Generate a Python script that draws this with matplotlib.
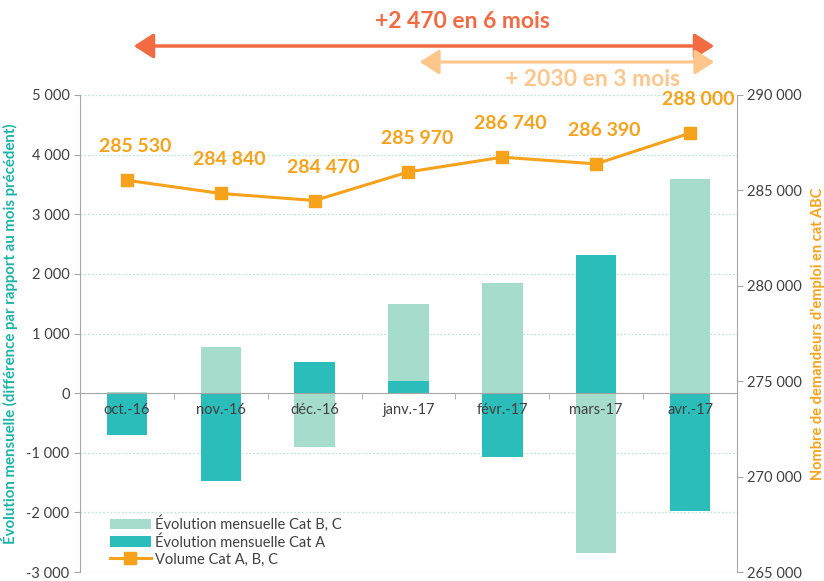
import matplotlib
matplotlib.use("Agg")
import matplotlib.pyplot as plt
from matplotlib.ticker import FuncFormatter, FixedLocator
import numpy as np

months = ["oct.-16", "nov.-16", "déc.-16", "janv.-17", "févr.-17", "mars-17", "avr.-17"]
cat_a = [-700, -1470, 530, 200, -1070, 2310, -1980]
cat_bc = [20, 780, -900, 1300, 1840, -2680, 3590]
volume = [285530, 284840, 284470, 285970, 286740, 286390, 288000]
vol_labels = ["285 530", "284 840", "284 470", "285 970", "286 740", "286 390", "288 000"]

C_A = "#2BBDB9"
C_BC = "#A6DCCB"
C_LINE = "#F7A21B"
C_RED = "#F26B43"
C_LIGHT = "#FFC68C"
C_GRID = "#BFE6DE"
C_SPINE = "#A6A6A6"
C_TXT = "#404040"

plt.rcParams['font.family'] = ['Lato', 'DejaVu Sans']

fig = plt.figure(figsize=(8.24, 5.81), dpi=100)
ax = fig.add_axes([80/824, 1-572/581, (737-80)/824, (572-95)/581])
ax2 = ax.twinx()

x = np.arange(len(months))
w = 0.43

# stacked bars (Excel style: positives stack up, negatives stack down)
pos_base = np.zeros(len(x))
neg_base = np.zeros(len(x))
for vals, col, lab in [(cat_a, C_A, "Évolution mensuelle Cat A"), (cat_bc, C_BC, "Évolution mensuelle Cat B, C")]:
    vals = np.array(vals, dtype=float)
    bottoms = np.where(vals >= 0, pos_base, neg_base)
    ax.bar(x, vals, w, bottom=bottoms, color=col, label=lab, zorder=3)
    pos_base = np.where(vals >= 0, pos_base + vals, pos_base)
    neg_base = np.where(vals < 0, neg_base + vals, neg_base)

ax.set_ylim(-3000, 5000)
ax.set_xlim(-0.5, len(x) - 0.5)
ax.set_yticks(np.arange(-3000, 5001, 1000))
ax.yaxis.set_major_formatter(FuncFormatter(lambda v, p: f"{int(v):,}".replace(",", " ")))
for yv in np.arange(-3000, 5001, 1000):
    if yv != 0:
        ax.axhline(yv, color=C_GRID, lw=0.9, ls=(0, (1.5, 1.5)), zorder=1)

ax.spines['top'].set_visible(False)
ax.spines['right'].set_visible(False)
ax.spines['left'].set_color(C_SPINE)
ax.spines['bottom'].set_position(('data', 0))
ax.spines['bottom'].set_color(C_SPINE)
ax.spines['bottom'].set_zorder(4)
ax.tick_params(axis='y', colors=C_SPINE, labelcolor=C_TXT, labelsize=10.5, length=4, direction='out')
ax.set_xticks(x)
ax.set_xticklabels(months)
ax.xaxis.set_minor_locator(FixedLocator(np.arange(0.5, len(x) - 0.5, 1)))
ax.tick_params(axis='x', which='major', length=0, labelsize=10.5, labelcolor=C_TXT, pad=7)
ax.tick_params(axis='x', which='minor', length=4, color=C_SPINE)
ax.xaxis.set_zorder(5)

ax.set_ylabel("Évolution mensuelle (différence par rapport au mois précédent)",
              color="#1BB3A8", fontsize=10.8, fontweight='bold', labelpad=6)

# line on secondary axis
ax2.plot(x, volume, color=C_LINE, lw=2.2, marker='s', ms=9, label="Volume Cat A, B, C", zorder=5)
ax2.set_ylim(265000, 290000)
ax2.set_yticks(np.arange(265000, 290001, 5000))
ax2.yaxis.set_major_formatter(FuncFormatter(lambda v, p: f"{int(v):,}".replace(",", " ")))
ax2.tick_params(axis='y', colors=C_SPINE, labelcolor=C_TXT, labelsize=10.5, length=4)
for s in ['top', 'left', 'bottom']:
    ax2.spines[s].set_visible(False)
ax2.spines['right'].set_color(C_SPINE)
ax2.set_ylabel("Nombre de demandeurs d'emploi en cat ABC", color=C_LINE,
               fontsize=10.5, fontweight='bold', rotation=90, labelpad=6)

for xi, v, lab in zip(x, volume, vol_labels):
    ax2.annotate(lab, (xi, v), xytext=(6, 18), textcoords='offset points',
                 ha='center', va='bottom', color=C_LINE, fontsize=14, fontweight='bold')

# legend
h1, l1 = ax.get_legend_handles_labels()
h2, l2 = ax2.get_legend_handles_labels()
handles = [h1[1], h1[0], h2[0]]
labels = [l1[1], l1[0], l2[0]]
leg = ax2.legend(handles, labels, loc='lower left', bbox_to_anchor=(0.03, -0.01),
                 frameon=False, fontsize=10.5, handlelength=2.8, handletextpad=0.3,
                 labelspacing=0.2, borderaxespad=0.3)
for t in leg.get_texts():
    t.set_color(C_TXT)

# top arrows and texts (figure coordinates)
def fx(px):
    return px / 824
def fy(py):
    return 1 - py / 581

fig.patches.append(matplotlib.patches.FancyArrowPatch(
    (fx(131), fy(46)), (fx(717), fy(46)), transform=fig.transFigure,
    arrowstyle='<|-|>,head_length=7,head_width=4.5', color=C_RED, lw=2.5, mutation_scale=1.7))
fig.patches.append(matplotlib.patches.FancyArrowPatch(
    (fx(417), fy(62)), (fx(717), fy(62)), transform=fig.transFigure,
    arrowstyle='<|-|>,head_length=7,head_width=4.5', color=C_LIGHT, lw=2.2, mutation_scale=1.7))
fig.text(fx(462), fy(21), "+2 470 en 6 mois", color=C_RED, fontsize=16.5, fontweight='bold',
         ha='center', va='center')
fig.text(fx(593), fy(79), "+ 2030 en 3 mois", color=C_LIGHT, fontsize=16.5, fontweight='bold',
         ha='center', va='center')

fig.savefig("out.png", dpi=100)
